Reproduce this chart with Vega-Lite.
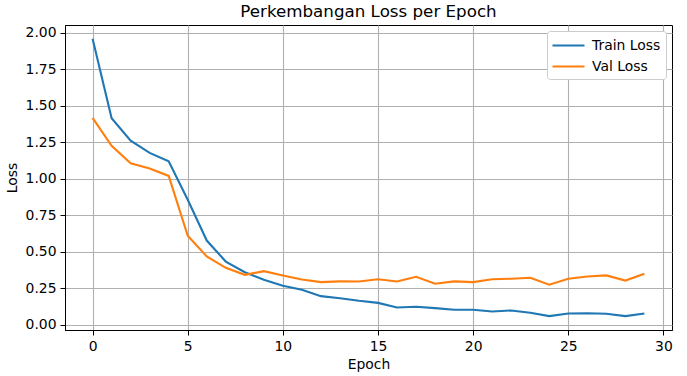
{
  "$schema": "https://vega.github.io/schema/vega-lite/v6.json",
  "width": 607,
  "height": 305,
  "autosize": {"type": "none"},
  "padding": {"left": 65, "top": 25, "right": 15, "bottom": 46},
  "background": "white",
  "config": {
    "font": "DejaVu Sans",
    "view": {"stroke": "black", "strokeWidth": 1},
    "axis": {
      "labelFont": "DejaVu Sans",
      "titleFont": "DejaVu Sans",
      "labelFontSize": 13.9,
      "titleFontSize": 13.9,
      "labelColor": "black",
      "titleColor": "black",
      "titleFontWeight": "normal",
      "domainColor": "black",
      "tickColor": "black",
      "tickSize": 5,
      "gridColor": "#b0b0b0",
      "gridWidth": 1.1
    }
  },
  "title": {
    "text": "Perkembangan Loss per Epoch",
    "font": "DejaVu Sans",
    "fontSize": 16.7,
    "fontWeight": "normal",
    "color": "black",
    "anchor": "middle",
    "offset": 4
  },
  "data": {
    "values": [
      {"epoch": 0, "series": "Train Loss", "loss": 1.959},
      {"epoch": 1, "series": "Train Loss", "loss": 1.415},
      {"epoch": 2, "series": "Train Loss", "loss": 1.262},
      {"epoch": 3, "series": "Train Loss", "loss": 1.178},
      {"epoch": 4, "series": "Train Loss", "loss": 1.12},
      {"epoch": 5, "series": "Train Loss", "loss": 0.856},
      {"epoch": 6, "series": "Train Loss", "loss": 0.577},
      {"epoch": 7, "series": "Train Loss", "loss": 0.433},
      {"epoch": 8, "series": "Train Loss", "loss": 0.36},
      {"epoch": 9, "series": "Train Loss", "loss": 0.308},
      {"epoch": 10, "series": "Train Loss", "loss": 0.267},
      {"epoch": 11, "series": "Train Loss", "loss": 0.24},
      {"epoch": 12, "series": "Train Loss", "loss": 0.196},
      {"epoch": 13, "series": "Train Loss", "loss": 0.182},
      {"epoch": 14, "series": "Train Loss", "loss": 0.164},
      {"epoch": 15, "series": "Train Loss", "loss": 0.15},
      {"epoch": 16, "series": "Train Loss", "loss": 0.118},
      {"epoch": 17, "series": "Train Loss", "loss": 0.123},
      {"epoch": 18, "series": "Train Loss", "loss": 0.114},
      {"epoch": 19, "series": "Train Loss", "loss": 0.103},
      {"epoch": 20, "series": "Train Loss", "loss": 0.103},
      {"epoch": 21, "series": "Train Loss", "loss": 0.091},
      {"epoch": 22, "series": "Train Loss", "loss": 0.098},
      {"epoch": 23, "series": "Train Loss", "loss": 0.082},
      {"epoch": 24, "series": "Train Loss", "loss": 0.059},
      {"epoch": 25, "series": "Train Loss", "loss": 0.077},
      {"epoch": 26, "series": "Train Loss", "loss": 0.079},
      {"epoch": 27, "series": "Train Loss", "loss": 0.075},
      {"epoch": 28, "series": "Train Loss", "loss": 0.059},
      {"epoch": 29, "series": "Train Loss", "loss": 0.077},
      {"epoch": 0, "series": "Val Loss", "loss": 1.418},
      {"epoch": 1, "series": "Val Loss", "loss": 1.226},
      {"epoch": 2, "series": "Val Loss", "loss": 1.107},
      {"epoch": 3, "series": "Val Loss", "loss": 1.07},
      {"epoch": 4, "series": "Val Loss", "loss": 1.02},
      {"epoch": 5, "series": "Val Loss", "loss": 0.61},
      {"epoch": 6, "series": "Val Loss", "loss": 0.468},
      {"epoch": 7, "series": "Val Loss", "loss": 0.39},
      {"epoch": 8, "series": "Val Loss", "loss": 0.342},
      {"epoch": 9, "series": "Val Loss", "loss": 0.367},
      {"epoch": 10, "series": "Val Loss", "loss": 0.338},
      {"epoch": 11, "series": "Val Loss", "loss": 0.31},
      {"epoch": 12, "series": "Val Loss", "loss": 0.292},
      {"epoch": 13, "series": "Val Loss", "loss": 0.297},
      {"epoch": 14, "series": "Val Loss", "loss": 0.296},
      {"epoch": 15, "series": "Val Loss", "loss": 0.312},
      {"epoch": 16, "series": "Val Loss", "loss": 0.296},
      {"epoch": 17, "series": "Val Loss", "loss": 0.329},
      {"epoch": 18, "series": "Val Loss", "loss": 0.281},
      {"epoch": 19, "series": "Val Loss", "loss": 0.297},
      {"epoch": 20, "series": "Val Loss", "loss": 0.292},
      {"epoch": 21, "series": "Val Loss", "loss": 0.312},
      {"epoch": 22, "series": "Val Loss", "loss": 0.315},
      {"epoch": 23, "series": "Val Loss", "loss": 0.322},
      {"epoch": 24, "series": "Val Loss", "loss": 0.274},
      {"epoch": 25, "series": "Val Loss", "loss": 0.315},
      {"epoch": 26, "series": "Val Loss", "loss": 0.331},
      {"epoch": 27, "series": "Val Loss", "loss": 0.338},
      {"epoch": 28, "series": "Val Loss", "loss": 0.303},
      {"epoch": 29, "series": "Val Loss", "loss": 0.349}
    ]
  },
  "mark": {"type": "line", "strokeWidth": 2.1, "clip": true},
  "encoding": {
    "x": {
      "field": "epoch",
      "type": "quantitative",
      "scale": {"domain": [-1.45, 30.45], "nice": false, "zero": false},
      "axis": {"title": "Epoch", "values": [0, 5, 10, 15, 20, 25, 30], "titlePadding": 5, "labelPadding": 4}
    },
    "y": {
      "field": "loss",
      "type": "quantitative",
      "scale": {"domain": [-0.036, 2.054], "nice": false, "zero": false},
      "axis": {"title": "Loss", "values": [0, 0.25, 0.5, 0.75, 1, 1.25, 1.5, 1.75, 2], "format": ".2f", "titlePadding": 6, "labelPadding": 4}
    },
    "color": {
      "field": "series",
      "type": "nominal",
      "scale": {"domain": ["Train Loss", "Val Loss"], "range": ["#1f77b4", "#ff7f0e"]},
      "legend": {
        "title": null,
        "orient": "top-right",
        "offset": 6,
        "fillColor": "white",
        "strokeColor": "#cccccc",
        "cornerRadius": 3,
        "padding": 5,
        "symbolType": "M-2,0H2",
        "symbolSize": 256,
        "symbolOffset": 7,
        "symbolStrokeWidth": 2.1,
        "labelFontSize": 13.9,
        "labelFont": "DejaVu Sans",
        "labelColor": "black",
        "rowPadding": 4,
        "labelOffset": 14
      }
    }
  }
}
